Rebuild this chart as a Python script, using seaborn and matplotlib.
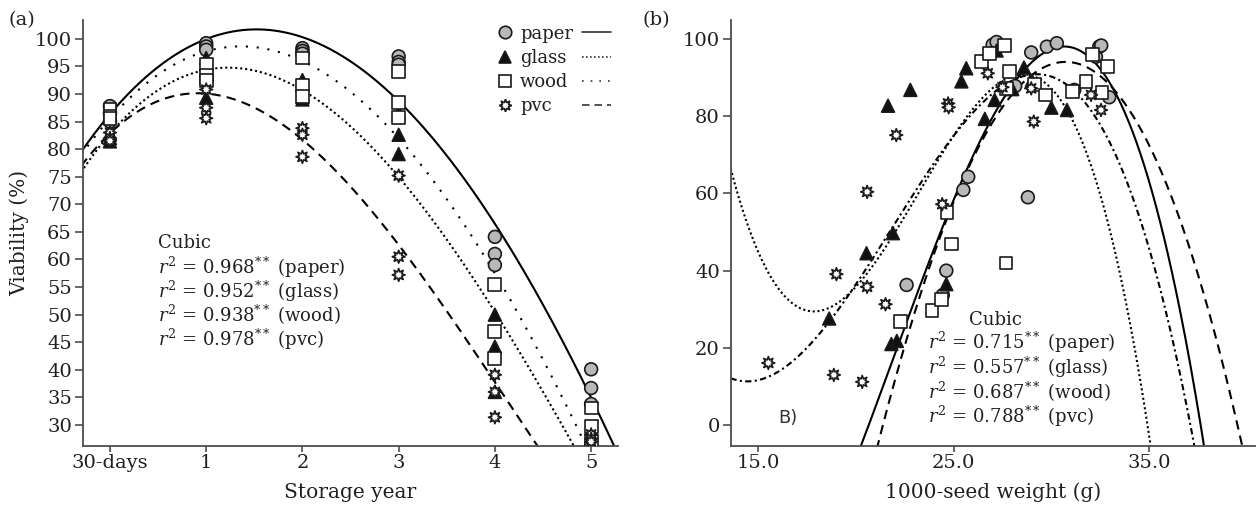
import numpy as np
import pandas as pd
import matplotlib
matplotlib.use('Agg')
import matplotlib.pyplot as plt
import seaborn as sns
from matplotlib.lines import Line2D

# ---- panel (a): viability vs storage time ----
storage_labels = ['30-days', '1', '2', '3', '4', '5']
materials = ['paper', 'glass', 'wood', 'pvc']

a_paper = [[87.8, 86.5, 85.0], [99.2, 98.6, 98.0], [98.3, 97.8, 97.3],
           [96.8, 95.8, 95.3], [64.1, 61.0, 59.0], [40.1, 36.7, 33.8]]
a_glass = [[82.8, 82.0, 81.4], [96.5, 93.0, 89.3], [92.5, 89.5, 89.0],
           [86.5, 82.6, 79.1], [50.0, 44.2, 36.0], [27.8, 27.3, 27.0]]
a_wood = [[87.2, 86.0, 85.5], [95.4, 93.4, 92.4], [96.5, 91.6, 89.5],
          [94.0, 88.4, 85.7], [55.4, 46.9, 42.1], [33.1, 29.8, 27.0]]
a_pvc = [[83.0, 82.0, 81.5], [90.8, 87.5, 85.6], [83.8, 82.6, 78.6],
         [75.2, 60.5, 57.2], [39.1, 36.0, 31.4], [28.3, 27.5, 27.0]]

# trend lines (x in storage-step units)
a_fit_x = {
    'paper': [-0.28, 0, 1, 1.53, 2, 3, 4, 5, 5.23],
    'glass': [-0.28, 0, 1, 1.25, 2, 3, 4, 4.83],
    'wood': [-0.28, 0, 1, 1.3, 2, 3, 4, 4.9],
    'pvc': [-0.28, 0, 0.86, 1, 2, 3, 4, 4.44],
}
a_fit_y = {
    'paper': [79.9, 86.5, 99.8, 101.6, 100.4, 89.0, 66.0, 35.5, 26.2],
    'glass': [75.9, 83.5, 94.1, 94.6, 90.4, 76.0, 49.6, 26.2],
    'wood': [79.0, 86.0, 98.2, 98.4, 95.0, 83.0, 57.0, 28.0],
    'pvc': [77.4, 83.0, 89.9, 89.7, 82.6, 62.0, 38.0, 26.2],
}
a_r2 = ['0.968', '0.952', '0.938', '0.978']

# ---- panel (b): viability vs 1000-seed weight ----
b_paper_w = [22.6, 24.45, 24.63, 25.5, 25.75, 27.0, 27.2, 28.15, 28.8, 28.97,
             29.77, 30.28, 31.17, 32.28, 32.45, 32.55, 32.96]
b_paper_v = [36.3, 33.7, 40.0, 60.9, 64.3, 98.5, 99.2, 87.8, 59.0, 96.5,
             98.0, 98.9, 86.8, 95.4, 98.0, 98.3, 84.9]
b_glass_w = [18.64, 20.55, 21.65, 21.9, 21.82, 22.1, 22.79, 24.63, 25.4, 25.65,
             26.6, 27.1, 27.2, 28.0, 28.6, 29.0, 30.0, 30.8]
b_glass_v = [27.6, 44.5, 82.7, 49.7, 21.0, 21.8, 86.8, 36.5, 89.0, 92.4,
             79.3, 84.2, 97.0, 87.0, 92.6, 89.2, 82.2, 81.6]
b_wood_w = [22.3, 23.9, 24.4, 24.66, 24.89, 26.42, 26.84, 27.6, 27.7, 27.86,
            27.68, 29.13, 29.69, 31.09, 31.77, 32.1, 32.59, 32.87]
b_wood_v = [26.8, 29.6, 32.6, 55.0, 46.9, 94.1, 96.3, 98.2, 87.2, 91.5,
            42.0, 88.1, 85.5, 86.4, 88.9, 95.9, 86.1, 92.8]
b_pvc_w = [15.53, 18.88, 19.01, 20.33, 20.58, 20.58, 21.52, 22.07, 24.42, 24.72,
           24.75, 26.75, 27.5, 28.97, 29.1, 32.03, 32.54]
b_pvc_v = [16.1, 13.0, 39.1, 11.2, 35.8, 60.4, 31.3, 75.1, 57.2, 83.3,
           82.3, 91.1, 87.5, 87.2, 78.6, 85.5, 81.6]

b_fit_x = {
    'paper': [20.3, 22.07, 24.72, 25.65, 26.5, 27.68, 30.57, 33.47, 35.34, 35.77, 36.4, 37.86],
    'glass': [13.64, 16.29, 17.82, 19.86, 22.24, 25.13, 28.88, 30.74, 32.27, 33.1, 34.13, 35.07],
    'wood': [13.64, 14.42, 18.64, 20.04, 22.24, 24.96, 29.4, 31.9, 33.98, 35.0, 35.68, 37.3],
    'pvc': [21.22, 22.59, 26.16, 30.92, 33.98, 35.68, 37.04, 38.0, 39.76],
}
b_fit_y = {
    'paper': [-5.4, 21.2, 54.0, 63.5, 73.8, 89.4, 97.3, 85.0, 58.3, 47.9, 30.6, -5.4],
    'glass': [65.2, 34.1, 29.8, 35.8, 52.2, 73.8, 89.9, 82.5, 66.9, 47.9, 22.0, -5.4],
    'wood': [12.1, 10.8, 28.1, 36.7, 54.0, 73.8, 89.4, 84.2, 61.7, 46.2, 32.4, -5.4],
    'pvc': [-5.4, 25.5, 69.5, 92.8, 82.5, 66.9, 46.2, 28.1, -4.7],
}
b_r2 = ['0.715', '0.557', '0.687', '0.788']

# ---- styling ----
sns.set_style('ticks')
plt.rcParams['font.family'] = ['DejaVu Serif']
plt.rcParams['mathtext.fontset'] = 'dejavuserif'
ink = '#231f20'
spine_col = '#4d4d4d'

face = {'paper': '#b8b8b8', 'glass': '#111111', 'wood': 'white', 'pvc': 'white'}
marks = {'paper': 'o', 'glass': '^', 'wood': 's', 'pvc': (8, 1, 0)}
dash_a = {'paper': '', 'glass': (1, 1.4), 'wood': (1, 4.2), 'pvc': (4.5, 3)}
dash_b = {'paper': '', 'glass': (1, 1.3), 'wood': (3, 1.6, 1, 1.6), 'pvc': (4.5, 3)}


def long_a():
    rows = []
    for m, vals in zip(materials, [a_paper, a_glass, a_wood, a_pvc]):
        for i, reps in enumerate(vals):
            for v in reps:
                rows.append({'x': i, 'y': v, 'material': m})
    return pd.DataFrame(rows)


def long_b():
    rows = []
    pairs = [(b_paper_w, b_paper_v), (b_glass_w, b_glass_v),
             (b_wood_w, b_wood_v), (b_pvc_w, b_pvc_v)]
    for m, (w, v) in zip(materials, pairs):
        for a, b in zip(w, v):
            rows.append({'x': a, 'y': b, 'material': m})
    return pd.DataFrame(rows)


def fit_curves(fx, fy, lo, hi):
    frames = []
    xs = np.linspace(lo, hi, 400)
    for m in materials:
        coef = np.polyfit(fx[m], fy[m], 3)
        frames.append(pd.DataFrame({'x': xs, 'y': np.polyval(coef, xs), 'material': m}))
    return pd.concat(frames, ignore_index=True)


def style_axis(ax):
    sns.despine(ax=ax)
    for s in ['left', 'bottom']:
        ax.spines[s].set_color(spine_col)
        ax.spines[s].set_linewidth(1.3)
    ax.tick_params(axis='y', length=6, width=1.2, color=spine_col, labelsize=14,
                   labelcolor=ink, pad=2)
    ax.tick_params(axis='x', length=4, width=1.2, color=spine_col, labelsize=14,
                   labelcolor=ink, pad=1.5)


fig = plt.figure(figsize=(12.56, 5.09), dpi=100)
ax1 = fig.add_axes([0.0661, 0.1238, 0.4260, 0.8369])
ax2 = fig.add_axes([0.582, 0.1238, 0.417, 0.8369])

# panel (a)
df_a = long_a()
curves_a = fit_curves(a_fit_x, a_fit_y, -0.3, 5.3)
sns.lineplot(data=curves_a, x='x', y='y', style='material', dashes=dash_a,
             color='black', lw=1.5, legend=False, estimator=None, sort=False, ax=ax1)
sns.scatterplot(data=df_a, x='x', y='y', hue='material', style='material',
                palette=face, markers=marks, s=85, edgecolor='#1a1a1a',
                linewidth=1.2, legend=False, ax=ax1, zorder=3)
ax1.set_xlim(-0.28, 5.28)
ax1.set_ylim(26.2, 103.4)
ax1.set_xticks(range(len(storage_labels)))
ax1.set_xticklabels(storage_labels)
ax1.set_yticks(np.arange(30, 101, 5))
ax1.set_xlabel('Storage year', fontsize=14.5, color=ink, labelpad=8)
ax1.set_ylabel('Viability (%)', fontsize=14.5, color=ink, labelpad=4)
style_axis(ax1)

ax1.text(0.140, 0.4765, 'Cubic', transform=ax1.transAxes, fontsize=13,
         color=ink, va='center')
for k, (m, r) in enumerate(zip(materials, a_r2)):
    ax1.text(0.140, 0.420 - k * 0.0565, r'$r^2$ = ' + r + r'$^{**}$ (' + m + ')',
             transform=ax1.transAxes, fontsize=13, color=ink, va='center')

mk_handles = [Line2D([], [], ls='none', marker=marks[m], ms=9, mfc=face[m],
                     mec='#1a1a1a', mew=1.2) for m in materials]
leg1 = ax1.legend(mk_handles, materials, loc='upper left',
                  bbox_to_anchor=(0.768, 0.993), frameon=False, fontsize=13,
                  handlelength=1.0, handletextpad=0.35, labelspacing=0.34,
                  borderpad=0.1, borderaxespad=0)
for t in leg1.get_texts():
    t.set_color(ink)
ax1.add_artist(leg1)
ln_handles = [Line2D([], [], color='#333333', lw=1.2,
                     ls='-' if dash_a[m] == '' else (0, dash_a[m])) for m in materials]
ax1.legend(ln_handles, ['', '', '', ''], loc='upper left',
           bbox_to_anchor=(0.93, 0.993), frameon=False, fontsize=13,
           handlelength=1.6, handletextpad=0, labelspacing=0.34,
           borderpad=0.1, borderaxespad=0)

fig.text(8 / 1256, 1 - 20 / 509, '(a)', fontsize=14, color=ink, va='center')

# panel (b)
df_b = long_b()
curves_b = fit_curves(b_fit_x, b_fit_y, 13.6, 40.4)
sns.lineplot(data=curves_b, x='x', y='y', style='material', dashes=dash_b,
             color='black', lw=1.5, legend=False, estimator=None, sort=False, ax=ax2)
sns.scatterplot(data=df_b, x='x', y='y', hue='material', style='material',
                palette=face, markers=marks, s=85, edgecolor='#1a1a1a',
                linewidth=1.2, legend=False, ax=ax2, zorder=3)
ax2.set_xlim(13.62, 40.4)
ax2.set_ylim(-5.4, 104.9)
ax2.set_xticks([15, 25, 35])
ax2.set_xticklabels(['15.0', '25.0', '35.0'])
ax2.set_yticks(np.arange(0, 101, 20))
ax2.set_xlabel('1000-seed weight (g)', fontsize=14.5, color=ink, labelpad=8)
ax2.set_ylabel('')
style_axis(ax2)

ax2.text(0.454, 0.296, 'Cubic', transform=ax2.transAxes, fontsize=13,
         color=ink, va='center')
for k, (m, r) in enumerate(zip(materials, b_r2)):
    ax2.text(0.376, 0.242 - k * 0.0575, r'$r^2$ = ' + r + r'$^{**}$ (' + m + ')',
             transform=ax2.transAxes, fontsize=13, color=ink, va='center')
ax2.text(0.108, 0.066, 'B)', transform=ax2.transAxes, fontsize=13,
         family='DejaVu Sans', color='#333333', ha='center', va='center')

fig.text(643 / 1256, 1 - 20 / 509, '(b)', fontsize=14, color=ink, va='center')

fig.savefig('out.png', dpi=100)
